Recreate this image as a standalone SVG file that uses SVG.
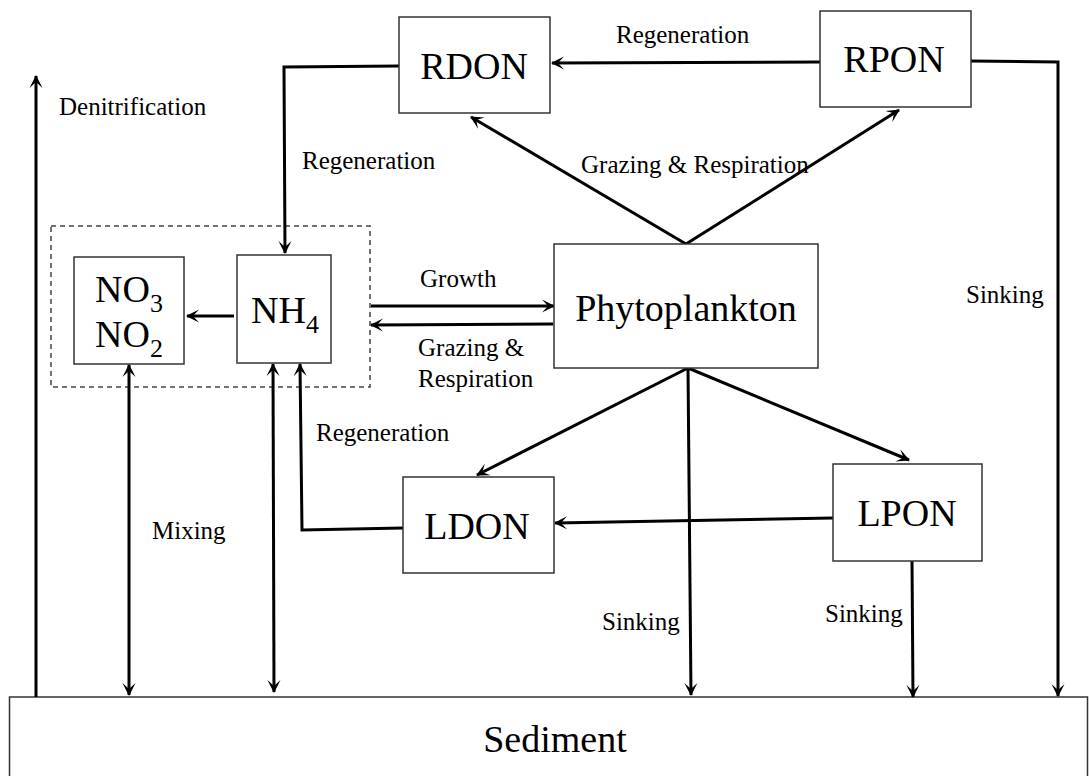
<svg xmlns="http://www.w3.org/2000/svg" width="1089" height="776" viewBox="0 0 1089 776">
<style>
.box{fill:#fff;stroke:#333;stroke-width:1.5}
.node{font-family:"Liberation Serif","Times New Roman",serif;font-size:38px;fill:#000}
.lbl{font-family:"Liberation Serif","Times New Roman",serif;font-size:25px;fill:#000}
.c{fill:none;stroke:#000;stroke-width:3}
</style>
<defs>
<marker id="ah" markerUnits="userSpaceOnUse" markerWidth="16" markerHeight="16" refX="12" refY="6.5" orient="auto-start-reverse" viewBox="0 0 16 13">
<path d="M0,0 L13,6.5 L0,13 L6,6.5 z" fill="#000"/>
</marker>
</defs>
<rect width="1089" height="776" fill="#fff"/>
<g id="sediment"><rect class="box" x="9.5" y="697" width="1078" height="100"/><text class="node" x="555" y="752" text-anchor="middle">Sediment</text></g>
<g id="dashed-group"><rect x="51" y="226" width="319" height="161" fill="none" stroke="#444" stroke-width="1.5" stroke-dasharray="5,4"/></g>
<g id="connectors">
<path class="c" d="M36,697 L36,76" marker-end="url(#ah)"/>
<path class="c" d="M820,62 L552,63" marker-end="url(#ah)"/>
<path class="c" d="M399,66 L284,67 L285,253" marker-end="url(#ah)"/>
<path class="c" d="M971,61 L1058,62 L1058,696" marker-end="url(#ah)"/>
<path class="c" d="M686,244 L471,117" marker-end="url(#ah)"/>
<path class="c" d="M686,244 L899,110" marker-end="url(#ah)"/>
<path class="c" d="M234,316 L187,316" marker-end="url(#ah)"/>
<path class="c" d="M371,306 L554,306" marker-end="url(#ah)"/>
<path class="c" d="M553,324 L371,325" marker-end="url(#ah)"/>
<path class="c" d="M688,368 L477,475" marker-end="url(#ah)"/>
<path class="c" d="M688,368 L909,460" marker-end="url(#ah)"/>
<path class="c" d="M688,368 L691,695" marker-end="url(#ah)"/>
<path class="c" d="M833,518 L555,523" marker-end="url(#ah)"/>
<path class="c" d="M403,528 L302,530 L300,364" marker-end="url(#ah)"/>
<path class="c" d="M129,365 L129,695" marker-start="url(#ah)" marker-end="url(#ah)"/>
<path class="c" d="M273,364 L274,692" marker-start="url(#ah)" marker-end="url(#ah)"/>
<path class="c" d="M912,561 L913,697" marker-end="url(#ah)"/>
</g>
<g id="labels">
<text class="lbl" x="59" y="115">Denitrification</text>
<text class="lbl" x="616" y="43">Regeneration</text>
<text class="lbl" x="302" y="169">Regeneration</text>
<text class="lbl" x="581" y="173">Grazing &amp; Respiration</text>
<text class="lbl" x="420" y="287">Growth</text>
<text class="lbl" x="418" y="356">Grazing &amp;</text>
<text class="lbl" x="418" y="387">Respiration</text>
<text class="lbl" x="316" y="441">Regeneration</text>
<text class="lbl" x="152" y="539">Mixing</text>
<text class="lbl" x="966" y="303">Sinking</text>
<text class="lbl" x="602" y="630">Sinking</text>
<text class="lbl" x="825" y="622">Sinking</text>
</g>
<g id="RDON"><rect class="box" x="399" y="17" width="151" height="96"/><text class="node" x="474" y="79" text-anchor="middle">RDON</text></g>
<g id="RPON"><rect class="box" x="820" y="11" width="151" height="96"/><text class="node" x="894" y="72" text-anchor="middle">RPON</text></g>
<g id="NO3NO2"><rect class="box" x="74" y="257" width="110" height="107"/><text class="node" x="95" y="302">NO<tspan font-size="26" dy="10">3</tspan></text><text class="node" x="95" y="347">NO<tspan font-size="26" dy="10">2</tspan></text></g>
<g id="NH4"><rect class="box" x="237" y="255" width="94" height="108"/><text class="node" x="251" y="323">NH<tspan font-size="26" dy="10">4</tspan></text></g>
<g id="Phytoplankton"><rect class="box" x="554" y="244" width="264" height="124"/><text class="node" x="686" y="321" text-anchor="middle">Phytoplankton</text></g>
<g id="LDON"><rect class="box" x="403" y="477" width="151" height="96"/><text class="node" x="477" y="539" text-anchor="middle">LDON</text></g>
<g id="LPON"><rect class="box" x="833" y="464" width="149" height="97"/><text class="node" x="907" y="526" text-anchor="middle">LPON</text></g>
</svg>
